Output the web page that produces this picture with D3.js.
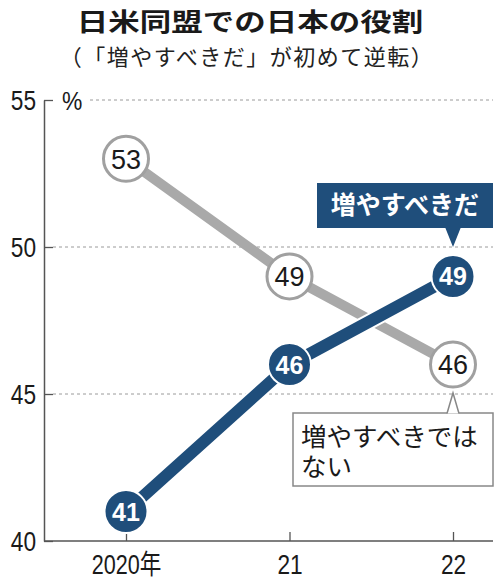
<!DOCTYPE html>
<html>
<head>
<meta charset="utf-8">
<script src="https://cdn.jsdelivr.net/npm/d3@7.9.0/dist/d3.min.js"></script>
<style>
  body { margin: 0; background: #fff; }
  svg { display: block; }
  text { text-spacing-trim: space-all; }
</style>
</head>
<body>
<div id="chart"></div>
<script>
// chart data
const years = ["2020", "21", "22"];
const yearLabels = ["2020年", "21", "22"];
const shouldIncrease = [41, 46, 49];      // 増やすべきだ
const shouldNotIncrease = [53, 49, 46];   // 増やすべきではない
const yTicks = [40, 45, 50, 55];

const width = 500, height = 584;
const blue = "#1f4e7b", gray = "#a9a9a9";
const cjk = "'Noto Sans CJK JP', sans-serif";
const latin = "'Liberation Sans', Arial, 'Noto Sans CJK JP', sans-serif";

const svg = d3.select("#chart").append("svg")
  .attr("width", width)
  .attr("height", height);

const x = d3.scalePoint().domain(years).range([126, 453]);
const y = d3.scaleLinear().domain([40, 55]).range([541, 100]);

// squeeze latin text like the condensed face of the original
function condense(sel, k) {
  sel.each(function() {
    const w = this.getComputedTextLength();
    d3.select(this).attr("textLength", w * k).attr("lengthAdjust", "spacingAndGlyphs");
  });
}

// title
svg.append("text")
  .attr("transform", "translate(250,31) scale(1.26,1)")
  .attr("text-anchor", "middle")
  .attr("font-family", cjk)
  .attr("font-weight", "bold")
  .attr("font-size", 25)
  .attr("fill", "#1a1a1a")
  .text("日米同盟での日本の役割");
svg.append("text")
  .attr("x", 247).attr("y", 65)
  .attr("text-anchor", "middle")
  .attr("font-family", cjk)
  .attr("font-size", 22)
  .attr("letter-spacing", 1.5)
  .attr("fill", "#222")
  .text("（「増やすべきだ」が初めて逆転）");

// grid
svg.append("g").selectAll("line")
  .data(yTicks.filter(d => d > 40))
  .enter().append("line")
  .attr("x1", d => d === 55 ? 90 : 53)
  .attr("x2", 493)
  .attr("y1", d => y(d)).attr("y2", d => y(d))
  .attr("stroke", "#9a9a9a")
  .attr("stroke-width", 1)
  .attr("stroke-dasharray", "3,3");

// axes
const yAxis = svg.append("g")
  .attr("transform", "translate(44,0)")
  .call(d3.axisLeft(y).tickValues(yTicks).tickSizeInner(-9).tickSizeOuter(0).tickPadding(8));
const xAxis = svg.append("g")
  .attr("transform", "translate(0,541)")
  .call(d3.axisBottom(x).tickSizeInner(-9).tickSizeOuter(0).tickPadding(14)
    .tickFormat((d, i) => yearLabels[i]));
xAxis.select(".domain").attr("d", "M44,0H493");
[yAxis, xAxis].forEach(a => {
  a.select(".domain").attr("stroke", "#555").attr("stroke-width", 1.5);
  a.selectAll(".tick line").attr("stroke", "#555").attr("stroke-width", 1.3);
  a.selectAll(".tick text")
    .attr("font-family", latin)
    .attr("font-size", 27)
    .attr("fill", "#1a1a1a");
});
yAxis.selectAll(".tick text").attr("dy", "0.36em").call(condense, 0.84);
xAxis.selectAll(".tick text").attr("dy", "0.72em")
  .each(function(d, i) { d3.select(this).call(condense, i === 0 ? 0.8 : 0.84); });

svg.append("text")
  .attr("x", 62).attr("y", 110)
  .attr("font-family", latin)
  .attr("font-size", 26)
  .attr("fill", "#1a1a1a")
  .text("%")
  .call(condense, 0.88);

const line = d3.line().x((d, i) => x(years[i])).y(d => y(d));

// gray series
svg.append("path")
  .attr("d", line(shouldNotIncrease))
  .attr("fill", "none")
  .attr("stroke", gray)
  .attr("stroke-width", 10);
const gp = svg.append("g").selectAll("g")
  .data(shouldNotIncrease)
  .enter().append("g")
  .attr("transform", (d, i) => `translate(${x(years[i])},${y(d)})`);
gp.append("circle")
  .attr("r", 22.5)
  .attr("fill", "#fff")
  .attr("stroke", "#a0a0a0")
  .attr("stroke-width", 3);
gp.append("text")
  .attr("text-anchor", "middle")
  .attr("dy", "0.36em")
  .attr("font-family", latin)
  .attr("font-size", 27)
  .attr("fill", "#1a1a1a")
  .text(d => d);

// blue series
svg.append("path")
  .attr("d", line(shouldIncrease))
  .attr("fill", "none")
  .attr("stroke", "#fff")
  .attr("stroke-width", 16);
svg.append("path")
  .attr("d", line(shouldIncrease))
  .attr("fill", "none")
  .attr("stroke", blue)
  .attr("stroke-width", 12);
const bp = svg.append("g").selectAll("g")
  .data(shouldIncrease)
  .enter().append("g")
  .attr("transform", (d, i) => `translate(${x(years[i])},${y(d)})`);
bp.append("circle")
  .attr("r", 21.5)
  .attr("fill", blue)
  .attr("stroke", "#fff")
  .attr("stroke-width", 2);
bp.append("text")
  .attr("text-anchor", "middle")
  .attr("dy", "0.36em")
  .attr("font-family", latin)
  .attr("font-weight", "bold")
  .attr("font-size", 25)
  .attr("fill", "#fff")
  .text(d => d);

// callout: 増やすべきだ
const px = x("22");
svg.append("rect")
  .attr("x", 317).attr("y", 183)
  .attr("width", 176).attr("height", 45)
  .attr("fill", blue);
svg.append("path")
  .attr("d", `M${px - 8},227L${px},247L${px + 8},227Z`)
  .attr("fill", blue);
svg.append("text")
  .attr("x", 405).attr("y", 214)
  .attr("text-anchor", "middle")
  .attr("font-family", cjk)
  .attr("font-weight", "bold")
  .attr("font-size", 25)
  .attr("fill", "#fff")
  .text("増やすべきだ");

// callout: 増やすべきではない
svg.append("rect")
  .attr("x", 293).attr("y", 413)
  .attr("width", 200).attr("height", 73)
  .attr("fill", "#fff")
  .attr("stroke", "#888")
  .attr("stroke-width", 1.5);
svg.append("path")
  .attr("d", `M${px - 6},413.5L${px},393L${px + 6},413.5`)
  .attr("fill", "#fff")
  .attr("stroke", "#888")
  .attr("stroke-width", 1.5);
const note = svg.append("text")
  .attr("font-family", cjk)
  .attr("font-size", 25.5)
  .attr("fill", "#1a1a1a");
note.append("tspan").attr("x", 301).attr("y", 446).text("増やすべきでは");
note.append("tspan").attr("x", 301).attr("y", 476).text("ない");
</script>
</body>
</html>
